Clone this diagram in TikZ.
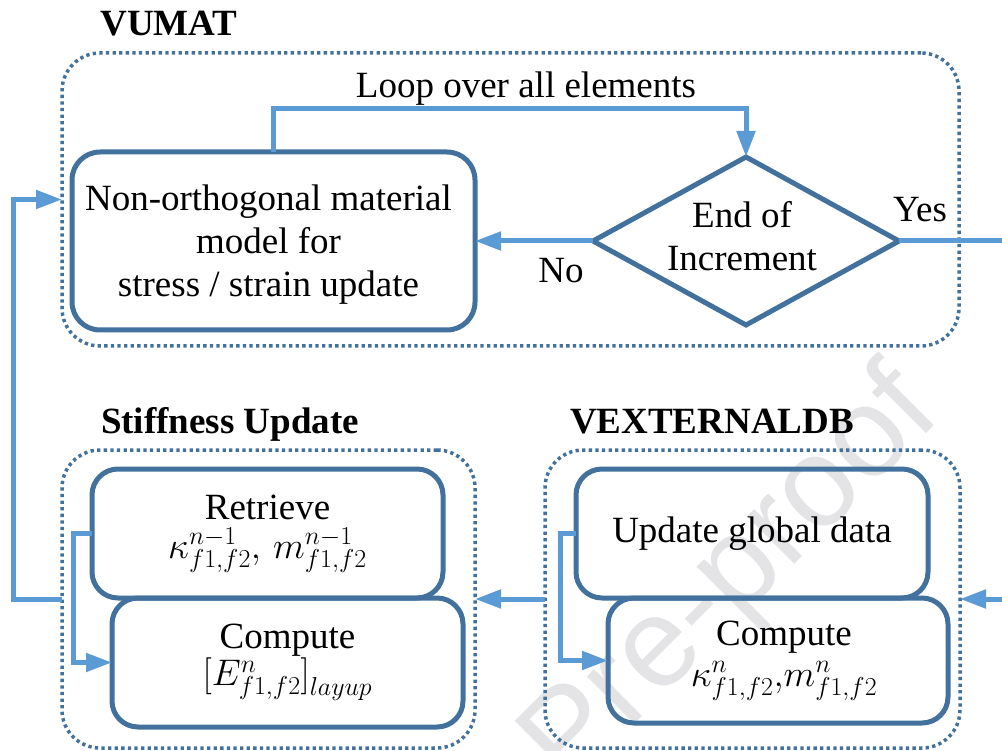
\RequirePackage{fix-cm}
\documentclass[tikz,border=0pt]{standalone}
\usepackage{fontspec}
\setmainfont{Liberation Serif}
\newfontfamily\wmfont{Liberation Sans}
\usetikzlibrary{arrows.meta,shapes.geometric,calc}
\definecolor{boxblue}{HTML}{41719C}
\definecolor{linkblue}{HTML}{5B9BD5}
\definecolor{wmgray}{HTML}{E4E4E6}

\begin{document}
\begin{tikzpicture}[x=1pt,y=-1pt,
  txt/.style={font=\fontsize{37}{43}\selectfont, align=center, inner sep=0pt},
  title/.style={font=\fontsize{37}{43}\selectfont\bfseries, inner sep=0pt, anchor=base},
  group/.style={draw=boxblue, line width=3.5pt, dash pattern=on 3.3pt off 3.3pt,
    rounded corners=38pt, inner sep=0pt, outer sep=0pt},
  stepbox/.style={txt, draw=boxblue, line width=5pt, rounded corners=26pt, outer sep=0pt},
  decision/.style={txt, diamond, aspect=1.82, draw=boxblue, line width=5pt,
    minimum width=306pt, minimum height=168pt, outer sep=0pt},
  link/.style={draw=linkblue, line width=5pt},
  flow/.style={link, -{Triangle[length=26pt,width=18pt]}},
]
\useasboundingbox (0,0) rectangle (1002,751);

% watermark
\node[rotate=45, text=wmgray, font=\fontsize{127}{127}\wmfont, inner sep=0pt]
  (wm) at (733,580) {Pre-proof};

% group frames
\node[group, minimum width=897pt, minimum height=293pt] (vumat) at (510.5,199.5) {};
\node[group, minimum width=413pt, minimum height=298pt] (stiff) at (268.5,599) {};
\node[group, minimum width=415pt, minimum height=298pt] (vext) at (752.5,599) {};

\node[title] (tvumat) at (169,36) {VUMAT};
\node[title] (tstiff) at (230,433) {Stiffness Update};
\node[title] (tvext) at (712,433) {VEXTERNALDB};

% VUMAT contents
\node[stepbox, rounded corners=28pt, minimum width=403pt, minimum height=178pt,
  label={[txt, xshift=-5pt, yshift=-4pt]center:Non-orthogonal material\\model for\\stress / strain update}]
  (model) at (273.5,241) {};
\node[decision, label={[txt, xshift=-4pt, yshift=5pt]center:End of\\Increment}]
  (dia) at (746,241) {\phantom{Increment}};

% stiffness update contents
\node[stepbox, minimum width=351pt, minimum height=129pt] (retr) at (267.5,533.5)
  {Retrieve\\[-4pt]$\kappa^{n-1}_{f1,f2},\, m^{n-1}_{f1,f2}$};
\node[stepbox, minimum width=351pt, minimum height=129pt] (comp1) at (287.5,662.5)
  {Compute\\[-6pt]$\Bigl[E^{n}_{f1,f2}\Bigr]_{layup}$};

% VEXTERNALDB contents
\node[stepbox, minimum width=352pt, minimum height=129pt] (upd) at (752,533.5)
  {Update global data};
\node[stepbox, minimum width=340pt, minimum height=125pt] (comp2) at (778,660.5)
  {\hspace*{12pt}Compute\\[-2pt]\hspace*{12pt}$\kappa^{n}_{f1,f2}{,}m^{n}_{f1,f2}$};

% free ends at the right border
\coordinate (yesout) at (1002,241);
\coordinate (rin) at (1002,599);

% connectors
\draw[flow] (model.north) |- ([yshift=48pt]dia.north) -- (dia.north);
\node[txt, anchor=base] (lloop) at (526,98) {Loop over all elements};
\draw[flow] (dia.west) -- (model.east);
\node[txt, anchor=base] (lno) at (561,283) {No};
\draw[link] (dia.east) -- (yesout);
\node[txt, anchor=base] (lyes) at (920,222) {Yes};

\draw[flow] (stiff.west) -- ++(-49,0) |- (vumat.west);
\draw[flow] (vext.west) -- (stiff.east);
\draw[flow] (rin) -- (vext.east);

\draw[flow] (retr.west) -- ++(-19,0) |- (comp1.west);
\draw[flow] (upd.west) -- ++(-16,0) |- (comp2.west);
\end{tikzpicture}
\end{document}
